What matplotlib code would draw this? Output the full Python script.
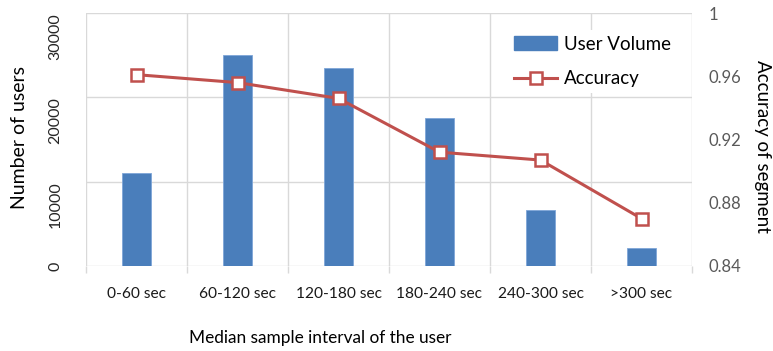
import matplotlib
matplotlib.use("Agg")
import matplotlib.pyplot as plt
from matplotlib.lines import Line2D
from matplotlib.patches import Patch
import numpy as np

categories = ["0-60 sec", "60-120 sec", "120-180 sec", "180-240 sec", "240-300 sec", ">300 sec"]
user_volume = [11000, 25000, 23500, 17500, 6600, 2100]
accuracy = [0.961, 0.956, 0.946, 0.912, 0.907, 0.870]
left_ticks = [0, 10000, 20000, 30000]
right_ticks = [0.84, 0.88, 0.92, 0.96, 1.0]
right_tick_labels = ["0.84", "0.88", "0.92", "0.96", "1"]

BAR_BLUE = "#4a7ebb"
LINE_RED = "#c0504d"
GRID = "#d9d9d9"

plt.rcParams["font.family"] = ["Lato", "DejaVu Sans"]

fig = plt.figure(figsize=(7.73, 3.51), dpi=100)
ax = fig.add_axes([86 / 773, 1 - 266 / 351, (692 - 86) / 773, (266 - 13) / 351])
x = np.arange(len(categories))

ax.bar(x, user_volume, width=0.29, color=BAR_BLUE, edgecolor="#7ea6d8", linewidth=0.6, zorder=2)
ax.set_xlim(-0.5, len(categories) - 0.5)
ax.set_ylim(0, 30000)
ax.set_yticks(left_ticks)
ax.set_yticklabels([str(v) for v in left_ticks], rotation=90, va="top", fontsize=11.5, color="#262626")
ax.get_yticklabels()[0].set_va("center")
ax.tick_params(axis="y", length=0, pad=17)

# category boundaries carry the vertical grid and the small tick marks
bounds = np.arange(-0.5, len(categories), 1.0)
ax.set_xticks(bounds)
ax.set_xticklabels([])
ax.tick_params(axis="x", which="major", length=5, color=GRID, width=1)
ax.set_xticks(x, minor=True)
ax.set_xticklabels(categories, minor=True, fontsize=11.2, color="#1a1a1a")
ax.tick_params(axis="x", which="minor", length=0, pad=15)
ax.grid(True, which="major", color=GRID, linewidth=1, zorder=0)
ax.set_axisbelow(True)
for s in ax.spines.values():
    s.set_visible(False)

ax2 = ax.twinx()
ax2.plot(x, accuracy, color=LINE_RED, linewidth=2.2, marker="s", markersize=8,
         markerfacecolor="white", markeredgecolor=LINE_RED, markeredgewidth=1.8, zorder=3)
ax2.set_ylim(0.84, 1.0)
ax2.set_yticks(right_ticks)
ax2.set_yticklabels(right_tick_labels, fontsize=12, color="#595959")
ax2.tick_params(axis="y", length=0, pad=12)
for s in ax2.spines.values():
    s.set_visible(False)

fig.text(20 / 773, 1 - 138 / 351, "Number of users", rotation=90, ha="center", va="center", fontsize=14)
fig.text(763 / 773, 1 - 146 / 351, "Accuracy of segment", rotation=-90, ha="center", va="center", fontsize=13.5)
fig.text(320 / 773, 1 - 338 / 351, "Median sample interval of the user", ha="center", va="center", fontsize=12.4)

handles = [
    Patch(facecolor=BAR_BLUE, edgecolor=BAR_BLUE),
    Line2D([0], [0], color=LINE_RED, linewidth=2.2, marker="s", markersize=8,
           markerfacecolor="white", markeredgecolor=LINE_RED, markeredgewidth=1.8),
]
leg = ax2.legend(handles, ["User Volume", "Accuracy"], loc="upper right",
                 bbox_to_anchor=(0.99, 0.97), frameon=True, fontsize=13.5,
                 handlelength=2.3, labelspacing=0.95, handletextpad=0.35, borderpad=0.3)
leg.get_frame().set_edgecolor("none")
leg.get_frame().set_facecolor("white")
leg.get_frame().set_alpha(1)

fig.savefig("out.png", dpi=100)
